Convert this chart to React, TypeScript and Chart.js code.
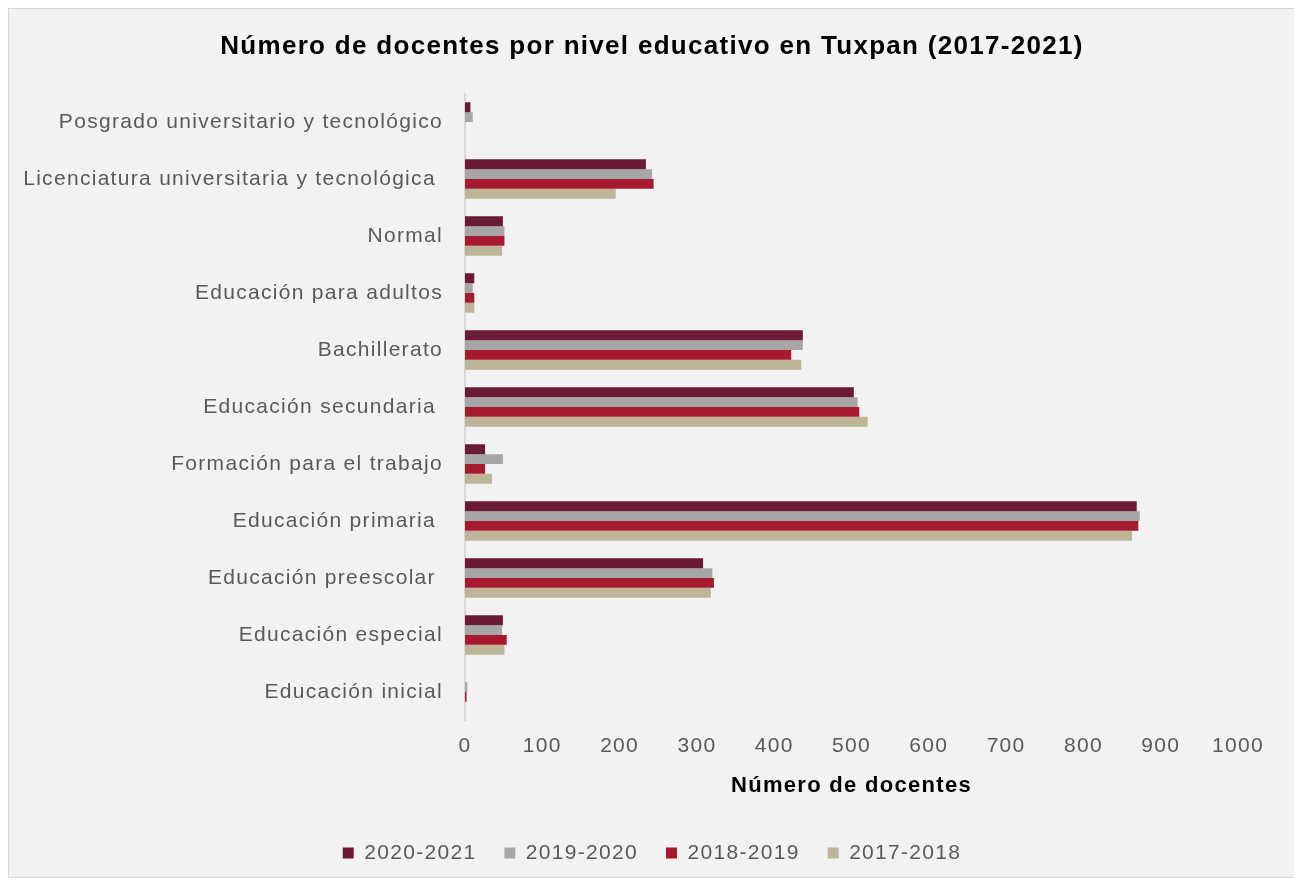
import React, { useEffect, useRef } from "react";
import { Chart, registerables } from "chart.js";

Chart.register(...registerables);

const categories = [
  "Posgrado universitario y tecnológico",
  "Licenciatura universitaria y tecnológica ",
  "Normal",
  "Educación para adultos",
  "Bachillerato",
  "Educación secundaria ",
  "Formación para el trabajo",
  "Educación primaria ",
  "Educación preescolar ",
  "Educación especial",
  "Educación inicial",
];

const seriesNames = ["2020-2021", "2019-2020", "2018-2019", "2017-2018"];
const values2020_2021 = [7, 234, 49, 12, 437, 503, 26, 869, 308, 49, 0];
const values2019_2020 = [10, 242, 51, 10, 437, 508, 49, 873, 320, 48, 3];
const values2018_2019 = [0, 244, 51, 12, 422, 510, 26, 871, 322, 54, 2];
const values2017_2018 = [0, 195, 48, 12, 435, 521, 35, 863, 318, 51, 0];
const seriesColors = ["#6a1a32", "#a6a6a6", "#a6192e", "#beb497"];

const xMin = 0;
const xMax = 1000;
const xStep = 100;

const FONT = "'Liberation Sans', Arial, sans-serif";
const LETTER_SPACING = "1.3px";

const spacingPlugin = {
  id: "letterSpacing",
  beforeLayout(chart: any) {
    try {
      chart.ctx.letterSpacing = LETTER_SPACING;
    } catch (e) {}
  },
  beforeDraw(chart: any) {
    try {
      chart.ctx.letterSpacing = LETTER_SPACING;
    } catch (e) {}
  },
};

export default function App() {
  const ref = useRef<HTMLCanvasElement | null>(null);

  useEffect(() => {
    if (!ref.current) return;
    const allValues = [values2020_2021, values2019_2020, values2018_2019, values2017_2018];
    const chart = new Chart(ref.current, {
      type: "bar",
      plugins: [spacingPlugin],
      data: {
        labels: categories,
        datasets: seriesNames.map((name, i) => ({
          label: name,
          data: allValues[i],
          backgroundColor: seriesColors[i],
          borderWidth: 0,
          categoryPercentage: 0.69,
          barPercentage: 1.0,
          xAxisID: "x",
          yAxisID: "y",
        })),
      },
      options: {
        indexAxis: "y",
        responsive: false,
        animation: false,
        layout: { padding: { left: 0, right: 0, top: 0, bottom: 3.5 } },
        plugins: {
          title: {
            display: true,
            text: "Número de docentes por nivel educativo en Tuxpan (2017-2021)",
            color: "#000000",
            font: { family: FONT, size: 26, weight: "bold" },
            padding: { top: 22.4, bottom: 30.9 },
          },
          legend: {
            display: true,
            position: "bottom",
            labels: {
              color: "#595959",
              font: { family: FONT, size: 21 },
              boxWidth: 11,
              boxHeight: 11,
              padding: 28,
            },
          },
          tooltip: { enabled: false },
        },
        scales: {
          x: {
            min: xMin,
            max: xMax,
            ticks: {
              stepSize: xStep,
              color: "#595959",
              font: { family: FONT, size: 21 },
              padding: 13.5,
              callback: (v: any) => String(v),
            },
            grid: { display: false, drawTicks: false },
            border: { display: false },
            title: {
              display: true,
              text: "Número de docentes",
              color: "#000000",
              font: { family: FONT, size: 22, weight: "bold" },
              padding: { top: 0, bottom: 15.3 },
            },
            afterFit: (scale: any) => {
              scale.height = 94;
            },
          },
          y: {
            ticks: {
              color: "#595959",
              font: { family: FONT, size: 21 },
              padding: 22,
              autoSkip: false,
            },
            grid: { display: false, drawTicks: false },
            border: { display: true, color: "#d9d9d9", width: 2 },
            afterFit: (scale: any) => {
              scale.width = 456;
            },
          },
          yRight: {
            type: "category",
            position: "right",
            display: true,
            ticks: { display: false },
            grid: { display: false, drawTicks: false },
            border: { display: false },
            afterFit: (scale: any) => {
              scale.width = 57;
            },
          },
        },
      },
    });
    return () => chart.destroy();
  }, []);

  return (
    <div
      style={{
        width: 1286,
        height: 868,
        border: "1px solid #d9d9d9",
        background: "#f2f2f2",
      }}
    >
      <canvas ref={ref} width={1286} height={868} style={{ display: "block" }} />
    </div>
  );
}
